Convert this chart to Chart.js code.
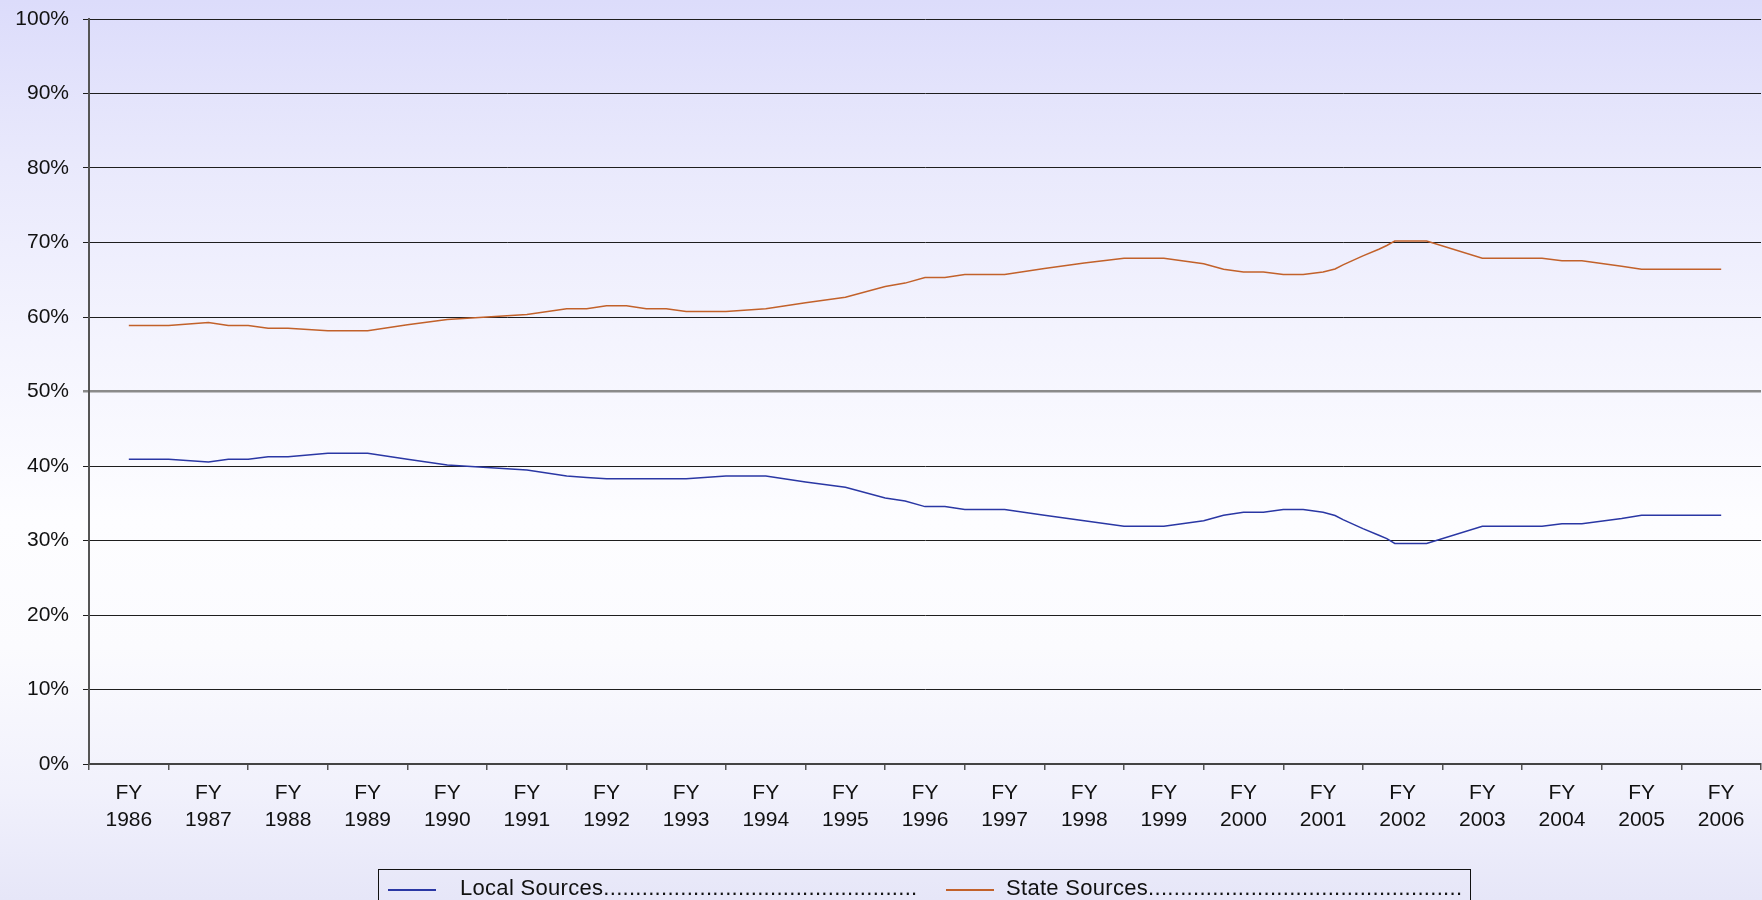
<!DOCTYPE html>
<html>
<head>
<meta charset="utf-8">
<script src="https://cdn.jsdelivr.net/npm/chart.js@4.4.1/dist/chart.umd.min.js"></script>
<style>
  html, body { margin: 0; padding: 0; overflow: hidden; }
  body {
    width: 1762px; height: 900px; position: relative;
    font-family: "Liberation Sans", Arial, sans-serif;
    background: linear-gradient(to bottom, #dcdcfb 0%, #e9e9fc 18%, #f4f4fe 38%, #fdfdff 58%, #fbfbfe 72%, #f1f1fc 88%, #e6e6f8 100%);
  }
  #wrap { position: absolute; left: 0; top: 0; width: 1762px; height: 900px; }
  #legend {
    position: absolute; left: 378px; top: 869px; width: 1093px; height: 44px;
    border: 1px solid #111; box-sizing: border-box;
  }
  .sw { position: absolute; top: 19px; width: 48px; height: 1.5px; }
  .lbl {
    position: absolute; top: 5px; width: 458px; overflow: hidden; white-space: nowrap;
    font-size: 22px; color: #111; letter-spacing: 0.3px;
  }
</style>
</head>
<body>
<div id="wrap"><canvas id="chart"></canvas></div>
<div id="legend"></div>
<script>
// Share of school revenue by source, FY1986 - FY2006

const fyLabels = ['1986', '1987', '1988', '1989', '1990', '1991', '1992', '1993', '1994', '1995',
  '1996', '1997', '1998', '1999', '2000', '2001', '2002', '2003', '2004', '2005', '2006'];

// positions along the fiscal-year axis
const periods = [1986, 1986.5, 1987, 1987.25, 1987.5, 1987.75, 1988, 1988.5, 1989, 1989.5,
  1990, 1990.5, 1991, 1991.5, 1991.75, 1992, 1992.25, 1992.5, 1992.75, 1993,
  1993.5, 1994, 1994.5, 1995, 1995.5, 1995.75, 1996, 1996.25, 1996.5, 1997,
  1997.5, 1998, 1998.5, 1999, 1999.5, 1999.75, 2000, 2000.25, 2000.5, 2000.75,
  2001, 2001.15, 2001.25, 2001.5, 2001.7, 2001.8, 2001.9, 2002.3, 2003, 2003.75,
  2004, 2004.25, 2004.75, 2005, 2006];

const localShare = [40.9, 40.9, 40.55, 40.9, 40.9, 41.25, 41.25, 41.7, 41.7, 40.9,
  40.15, 39.8, 39.45, 38.65, 38.45, 38.3, 38.3, 38.3, 38.3, 38.3,
  38.65, 38.65, 37.85, 37.15, 35.7, 35.3, 34.55, 34.55, 34.15, 34.15,
  33.4, 32.65, 31.9, 31.9, 32.65, 33.4, 33.8, 33.8, 34.15, 34.15,
  33.8, 33.35, 32.8, 31.6, 30.7, 30.25, 29.6, 29.6, 31.9, 31.9,
  32.25, 32.25, 32.95, 33.4, 33.4];

const stateShare = [58.85, 58.85, 59.25, 58.85, 58.85, 58.5, 58.5, 58.15, 58.15, 58.95,
  59.65, 60.0, 60.35, 61.1, 61.1, 61.5, 61.5, 61.1, 61.1, 60.75,
  60.75, 61.1, 61.9, 62.65, 64.1, 64.55, 65.3, 65.3, 65.7, 65.7,
  66.5, 67.25, 67.9, 67.9, 67.15, 66.4, 66.05, 66.05, 65.7, 65.7,
  66.05, 66.45, 67.0, 68.2, 69.1, 69.6, 70.2, 70.2, 67.9, 67.9,
  67.55, 67.55, 66.8, 66.4, 66.4];

const seriesNames = ['Local Sources', 'State Sources'];
const seriesColors = ['#2a37a4', '#c2612a'];

const FONT = '"Liberation Sans", Arial, sans-serif';

function toPoints(values) {
  return periods.map((p, i) => ({ x: p, y: values[i] }));
}

const chart = new Chart(document.getElementById('chart'), {
  type: 'line',
  data: {
    datasets: [
      { label: seriesNames[0], data: toPoints(localShare), xAxisID: 'xd',
        borderColor: seriesColors[0], borderWidth: 1.5, pointRadius: 0, tension: 0 },
      { label: seriesNames[1], data: toPoints(stateShare), xAxisID: 'xd',
        borderColor: seriesColors[1], borderWidth: 1.5, pointRadius: 0, tension: 0 },
    ],
  },
  options: {
    responsive: true,
    maintainAspectRatio: false,
    animation: false,
    layout: { padding: { top: 19, right: 1, left: 0, bottom: 0 } },
    plugins: { legend: { display: false }, tooltip: { enabled: false } },
    scales: {
      x: {
        type: 'category',
        labels: fyLabels.map(y => ['FY', y]),
        offset: true,
        grid: { offset: true, drawOnChartArea: false, drawTicks: true, tickLength: 6,
                color: '#555', lineWidth: 1.5 },
        border: { display: true, color: '#444', width: 2 },
        ticks: { color: '#111', font: { family: FONT, size: 21, lineHeight: 1.28 },
                 padding: 10, maxRotation: 0, autoSkip: false },
        afterFit: (s) => { s.height = 136; },
      },
      xd: { type: 'linear', display: false, min: 1985.5, max: 2006.5 },
      y: {
        min: 0, max: 100,
        ticks: { stepSize: 10, color: '#111', padding: 14, autoSkip: false,
                 font: { family: FONT, size: 21, lineHeight: 0.1 },
                 callback: (v) => v + '%' },
        grid: {
          color: (c) => c.tick && c.tick.value === 50 ? '#8a8a8a' : '#1e1e1e',
          lineWidth: (c) => c.tick && c.tick.value === 50 ? 2.5 : 1,
          tickLength: 6,
        },
        border: { display: true, color: '#555', width: 2 },
        afterFit: (s) => { s.width = 89; },
      },
    },
  },
});

// --- legend (boxed, Excel style with dot leaders) ---
const legend = document.getElementById('legend');
const swLeft = [9, 567];
const lblLeft = [81, 627];
seriesNames.forEach((name, i) => {
  const sw = document.createElement('span');
  sw.className = 'sw';
  sw.style.left = swLeft[i] + 'px';
  sw.style.background = seriesColors[i];
  legend.appendChild(sw);
  const lbl = document.createElement('span');
  lbl.className = 'lbl';
  lbl.style.left = lblLeft[i] + 'px';
  lbl.textContent = name + '.'.repeat(120);
  legend.appendChild(lbl);
});
</script>
</body>
</html>
